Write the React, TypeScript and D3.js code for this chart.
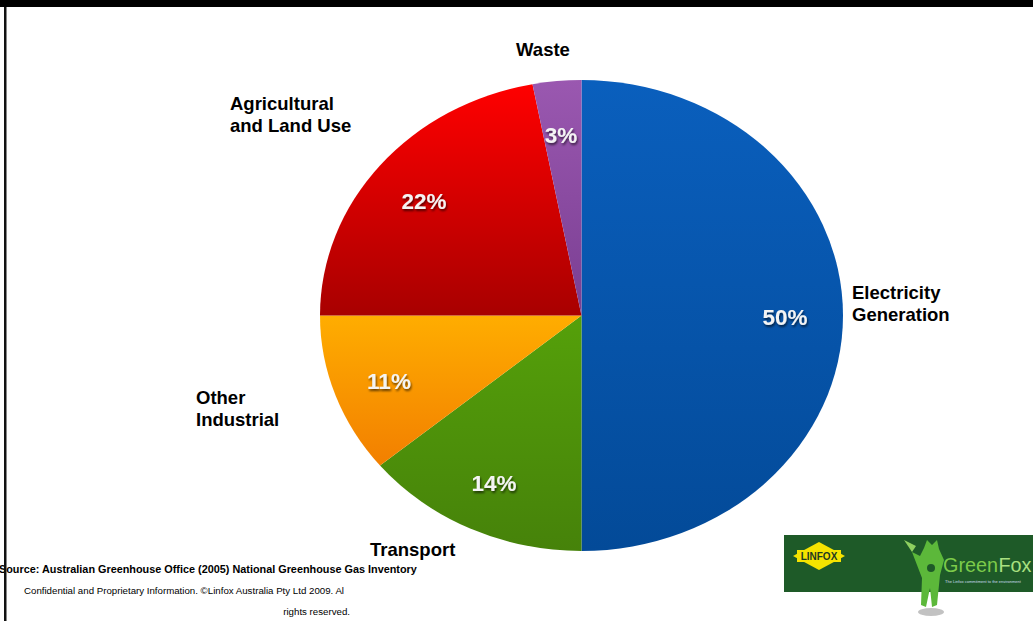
import React from "react";
import * as d3 from "d3";

const categories = ["Electricity Generation", "Transport", "Other Industrial", "Agricultural and Land Use", "Waste"];
const values = [50, 14, 11, 22, 3];
const labelLines = [["Electricity", "Generation"], ["Transport"], ["Other", "Industrial"], ["Agricultural", "and Land Use"], ["Waste"]];
const colorTop = ["#0a5fbd", "#55a00a", "#ffad00", "#ff0000", "#9a58b0"];
const colorBottom = ["#034a98", "#46820a", "#f27f00", "#a80000", "#7a3e92"];

const W = 1033, H = 621;
const cx = 581.5, cy = 315.5, rx = 261.5, ry = 235.5;

const namePos: [number, number, string][] = [
  [852, 299, "start"],
  [370, 556, "start"],
  [196, 404, "start"],
  [230, 110, "start"],
  [543, 56, "middle"],
];
const pctPos: [number, number][] = [
  [785, 317], [494, 483], [389, 381], [424, 201], [561, 135],
];

export default function App() {
  const pie = d3.pie<number>().sort(null).value((d) => d);
  const arcs = pie(values);
  const arc = d3.arc<d3.PieArcDatum<number>>().innerRadius(0).outerRadius(ry);
  const sx = rx / ry;
  const font = "Liberation Sans, Arial, sans-serif";

  return (
    <svg width={W} height={H} style={{ position: "absolute", left: 0, top: 0, background: "#fff" }}>
      <defs>
        {colorTop.map((c, i) => (
          <linearGradient key={i} id={`g${i}`} x1="0" y1="0" x2="0" y2="1">
            <stop offset="0%" stopColor={c} />
            <stop offset="100%" stopColor={colorBottom[i]} />
          </linearGradient>
        ))}
        <filter id="ts" x="-20%" y="-20%" width="140%" height="160%">
          <feDropShadow dx="1" dy="2" stdDeviation="1.2" floodColor="#000" floodOpacity="0.6" />
        </filter>
      </defs>
      <rect x={0} y={0} width={W} height={H} fill="#fff" />
      <g transform={`translate(${cx},${cy}) scale(${sx},1)`}>
        {arcs.map((a, i) => (
          <path key={i} d={arc(a) || ""} fill={`url(#g${i})`} />
        ))}
      </g>
      {arcs.map((a, i) => (
        <text key={i} x={pctPos[i][0]} y={pctPos[i][1]} dy="0.35em" textAnchor="middle" fill="#f4f4f4" fontFamily={font} fontWeight="bold" fontSize={22.5} filter="url(#ts)">
          {values[i]}%
        </text>
      ))}
      {labelLines.map((lines, i) => (
        <text key={i} x={namePos[i][0]} y={namePos[i][1]} textAnchor={namePos[i][2] as any} fontFamily={font} fontWeight="bold" fontSize={18.5} fill="#000">
          {lines.map((l, j) => (
            <tspan key={j} x={namePos[i][0]} dy={j === 0 ? 0 : 22}>{l}</tspan>
          ))}
        </text>
      ))}
      <text x={-1} y={573} fontFamily={font} fontWeight="bold" fontSize={10.85} fill="#000">
        Source: Australian Greenhouse Office (2005) National Greenhouse Gas Inventory
      </text>
      <text x={24} y={594} fontFamily={font} fontSize={9.7} fill="#000">
        Confidential and Proprietary Information. ©Linfox Australia Pty Ltd 2009. Al
      </text>
      <text x={350} y={615} textAnchor="end" fontFamily={font} fontSize={9.7} fill="#000">
        rights reserved.
      </text>
      {/* logo */}
      <rect x={784} y={535} width={249} height={57} fill="#1e5a28" />
      <polygon points="793,556 819,542 845,556 819,570" fill="#f5e300" />
      <rect x={797} y={550} width={44} height={12} fill="#f5e300" />
      <text x={819} y={560} textAnchor="middle" fontFamily={font} fontWeight="bold" fontSize={10} fill="#1f3a20">LINFOX</text>
      <ellipse cx={931} cy={612} rx={13} ry={4} fill="#999" opacity={0.6} />
      <path d="M924,548 L927,540 L932,545 L937,540 L939,549 L944,560 L940,575 L937,605 L932,607 L930,588 L926,607 L921,605 L922,578 L917,565 L912,552 L920,556 Z" fill="#5cb83a" />
      <path d="M912,552 L904,540 L916,546 Z" fill="#8fd060" />
      <circle cx={931} cy={568} r={4} fill="#1e5a28" />
      <text x={943} y={572} fontFamily={font} fontSize={19.8} fill="#7ccb4a">Green</text>
      <text x={998.5} y={572} fontFamily={font} fontSize={19.8} fill="#a8e080">Fox</text>
      <text x={945} y={583} fontFamily={font} fontSize={4} fill="#cde">The Linfox commitment to the environment</text>
      {/* frame */}
      <rect x={0} y={0} width={W} height={7} fill="#000" />
      <rect x={4} y={7} width={2.5} height={H - 7} fill="#111" />
    </svg>
  );
}
